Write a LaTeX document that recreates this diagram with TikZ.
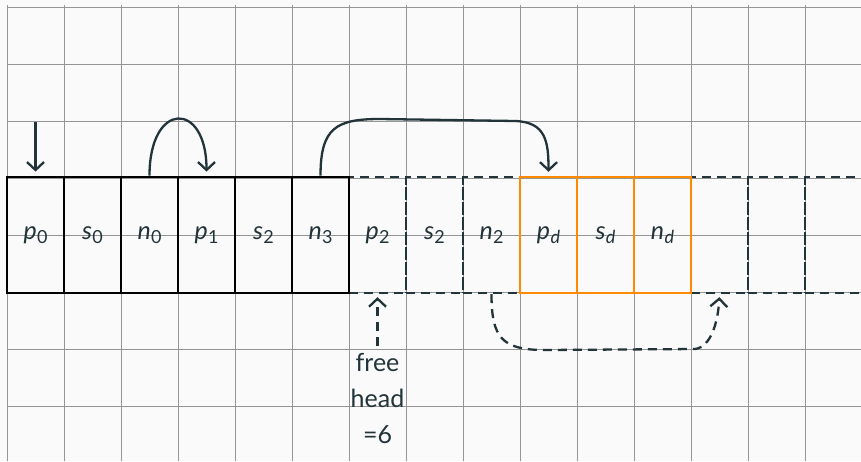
\documentclass[tikz,border=0pt]{standalone}
\usepackage{fontspec}
\setmainfont{Lato}
\usetikzlibrary{arrows.meta}
\definecolor{ink}{HTML}{22343A}
\definecolor{gridc}{HTML}{959595}
\definecolor{orng}{HTML}{FF8A00}
\definecolor{bg}{HTML}{FAFAFA}
\newcommand\lab[2]{\textit{#1}\kern0.3pt\raisebox{-0.35ex}{\fontsize{18}{18}\selectfont #2}}
\tikzset{
  cell/.style={rectangle, minimum width=57pt, minimum height=116pt, inner sep=0pt,
    text=ink, font=\fontsize{25}{28}\selectfont},
  usedcell/.style={cell, draw=black, line width=2.8pt},
  freecell/.style={cell, draw=ink, line width=2.3pt, dash pattern=on 9pt off 6pt},
  datacell/.style={cell, draw=orng, line width=2.5pt},
  gridline/.style={draw=gridc, line width=0.9pt},
  link/.style={draw=ink, line width=2.3pt, -{Straight Barb[length=8pt,width=17pt,line width=2.3pt]}},
  freelink/.style={link, dash pattern=on 9pt off 6pt},
}
\begin{document}
\begin{tikzpicture}[x=1pt,y=-1pt]
\fill[bg] (0,0) rectangle (861,461);
\useasboundingbox (0,0) rectangle (861,461);
% grid
\foreach \i in {0,...,15} {\draw[gridline] ({7+57*\i},5) -- ({7+57*\i},461);}
\foreach \j in {0,...,7} {\draw[gridline] (7,{7+57*\j}) -- (861,{7+57*\j});}
% cells
\node[freecell] (c6) at (377.5,235) {\lab{p}{2}};
\node[freecell] (c7) at (434.5,235) {\lab{s}{2}};
\node[freecell] (c8) at (491.5,235) {\lab{n}{2}};
\node[freecell] (c12) at (719.5,235) {};
\node[freecell] (c13) at (776.5,235) {};
\node[freecell] (c14) at (833.5,235) {};
\node[usedcell] (c0) at (35.5,235) {\lab{p}{0}};
\node[usedcell] (c1) at (92.5,235) {\lab{s}{0}};
\node[usedcell] (c2) at (149.5,235) {\lab{n}{0}};
\node[usedcell] (c3) at (206.5,235) {\lab{p}{1}};
\node[usedcell] (c4) at (263.5,235) {\lab{s}{2}};
\node[usedcell] (c5) at (320.5,235) {\lab{n}{3}};
\node[datacell] (c9) at (548.5,235) {\lab{p}{\textit{d}}};
\node[datacell] (c10) at (605.5,235) {\lab{s}{\textit{d}}};
\node[datacell] (c11) at (662.5,235) {\lab{n}{\textit{d}}};
% free head label
\node[anchor=north, align=center, inner sep=0pt, text=ink, font=\fontsize{25}{36}\selectfont]
  (free) at (377.5,353) {free\\head\\=6};
% connectors
\coordinate (start) at (35.5,122);
\draw[link, shorten >=4pt] (start) -- (c0.north);
\draw[link, shorten >=4pt] (c2.north) .. controls +(0,-75) and +(0,-75) .. (c3.north);
\draw[link, shorten >=4pt] (c5.north) .. controls (320.5,128) and (336,119) .. (380,119)
  -- (515,121) .. controls (546,122) and (548.5,142) .. (c9.north);
\draw[freelink, shorten <=7pt, shorten >=3pt] (free.north) -- (c6.south);
\draw[freelink, shorten >=3pt] (c8.south) .. controls (491.5,338) and (502,350) .. (545,350)
  -- (695,349) .. controls (711,347) and (718,322) .. (c12.south);
\end{tikzpicture}
\end{document}
